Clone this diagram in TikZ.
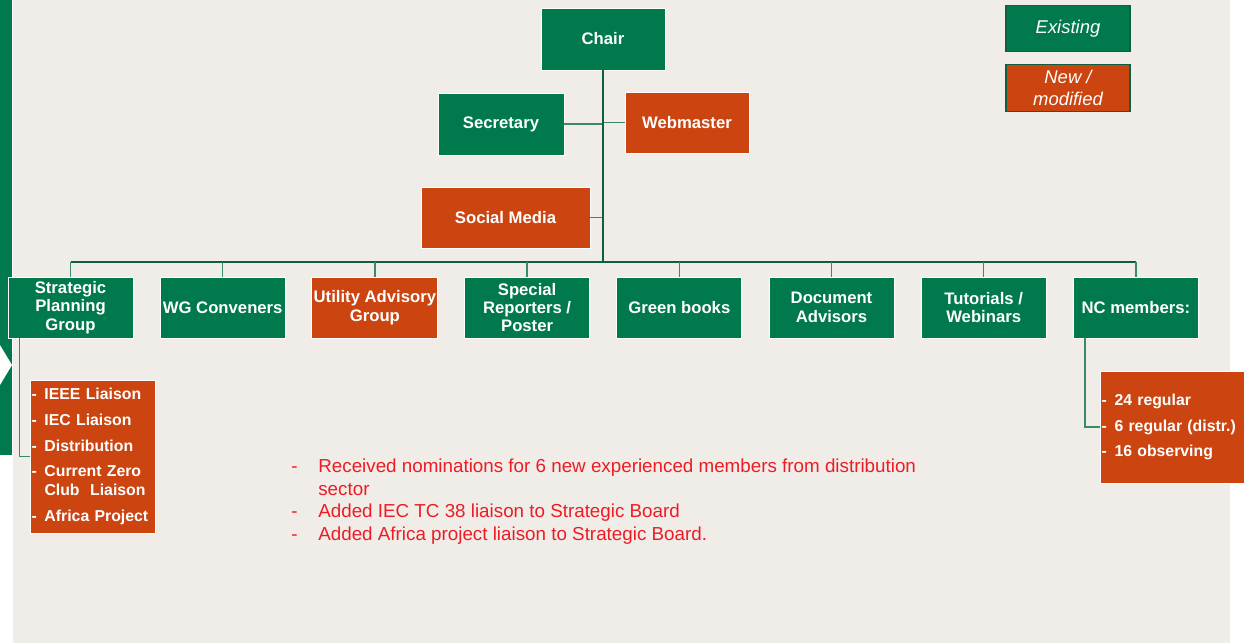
\documentclass[tikz,border=0pt]{standalone}
\usepackage{fontspec}
\setmainfont{Liberation Sans}
\setsansfont{Liberation Sans}
\usepackage{tikz}
\usetikzlibrary{positioning,calc}
\definecolor{orggreen}{RGB}{0,121,77}
\definecolor{neworange}{RGB}{204,68,16}
\definecolor{slidebg}{RGB}{240,237,233}
\definecolor{linkgreen}{RGB}{58,138,106}
\definecolor{trunkgreen}{RGB}{14,96,62}
\definecolor{notered}{RGB}{237,28,36}
\tikzset{
  base/.style={font=\sffamily\bfseries\fontsize{9.5}{10.5}\selectfont, align=center, inner sep=1pt, text=white},
  box/.style={base, rectangle, draw=white, line width=0.5pt, fill=orggreen, minimum height=1.22cm, minimum width=2.5cm},
  newbox/.style={box, fill=neworange},
  subbox/.style={base, font=\sffamily\bfseries\fontsize{9}{10.8}\selectfont, rectangle, draw=white, line width=0.5pt,
    fill=neworange, align=left, inner xsep=0.03cm},
  keybox/.style={rectangle, draw=trunkgreen, line width=0.6pt, text=white, align=center, inner sep=1pt,
    font=\sffamily\itshape\fontsize{10.5}{12.5}\selectfont, minimum width=2.48cm, minimum height=0.93cm},
  link/.style={draw=linkgreen, line width=0.9pt},
  trunk/.style={draw=trunkgreen, line width=1.5pt},
  bus/.style={draw=trunkgreen, line width=1.1pt},
  note/.style={font=\sffamily\fontsize{10.7}{12.8}\selectfont, text=notered, align=left, inner sep=0pt},
}
\newcommand{\dashitem}[1]{\makebox[0.26cm][l]{-}#1}
\newcommand{\noteitem}[1]{\makebox[0.54cm][l]{-}#1}

\begin{document}
\begin{tikzpicture}[x=0.02cm,y=-0.02cm]
  % slide background
  \useasboundingbox (0,0) rectangle (1249,643);
  \fill[white] (0,0) rectangle (1249,643);
  \fill[slidebg] (13,0) rectangle (1230,643);
  \fill[orggreen] (0,0) rectangle (12,455);
  \fill[white] (0,345) -- (12,365) -- (0,385) -- cycle;

  % top of the chart
  \node[box,minimum width=2.48cm,minimum height=1.24cm] (chair) at (603,39) {Chair};
  \node[box,minimum width=2.52cm,minimum height=1.24cm] (secretary) at (501,124) {Secretary};
  \node[newbox,minimum width=2.48cm] (webmaster) at (687,122.5) {Webmaster};
  \node[newbox,minimum width=3.38cm] (social) at (505.5,217.5) {Social Media};
  \coordinate (hub) at (603,262);

  \draw[link] (secretary.east) -- (secretary.east -| chair.south);
  \draw[link] (webmaster.west) -- (webmaster.west -| chair.south);
  \draw[link] (social.east) -- (social.east -| chair.south);
  \draw[trunk] (chair.south) -- (hub);

  % second row
  \foreach \i/\s/\t in {0/box/{Strategic\\Planning\\Group},1/box/{WG Conveners},2/newbox/{Utility Advisory\\Group},
      3/box/{Special\\Reporters /\\Poster},4/box/{Green books},5/box/{Document\\Advisors},
      6/box/{Tutorials /\\Webinars},7/box/{NC members:}}{
    \node[\s] (grp\i) at ({70.5+152.2*\i},307.5) {\t};
  }
  \draw[bus] (grp0.north |- hub) -- (grp7.north |- hub);
  \foreach \i in {0,...,7}{
    \draw[link] (grp\i.north) -- (grp\i.north |- hub);
  }

  % sub groups
  \node[subbox,text width=2.44cm,minimum height=3.06cm] (spgsub) at (92.5,456.5)
    {\dashitem{IEEE Liaison}\\[3.8pt]\dashitem{IEC Liaison}\\[3.8pt]\dashitem{Distribution}\\[3.8pt]
     \dashitem{Current Zero}\\\hspace*{0.26cm}Club~ Liaison\\[3.8pt]\dashitem{Africa Project}};
  \node[subbox,text width=2.82cm,minimum height=2.24cm] (ncsub) at (1172,427)
    {\dashitem{24 regular}\\[3.8pt]\dashitem{6 regular (distr.)}\\[3.8pt]\dashitem{16 observing}};
  \draw[link] ([xshift=0.24cm]grp0.south west) |- (spgsub.west);
  \draw[link] ([xshift=0.24cm]grp7.south west) |- (ncsub.west);

  % legend
  \node[keybox,fill=orggreen] (keyold) at (1068,28.5) {Existing};
  \node[keybox,fill=neworange] (keynew) at (1068,88) {New /\\modified};

  % notes
  \node[note,anchor=north west] (notes) at (291,459)
    {\noteitem{Received nominations for 6 new experienced members from distribution}\\
     \hspace*{0.54cm}sector\\
     \noteitem{Added IEC TC 38 liaison to Strategic Board}\\
     \noteitem{Added Africa project liaison to Strategic Board.}};
\end{tikzpicture}
\end{document}
